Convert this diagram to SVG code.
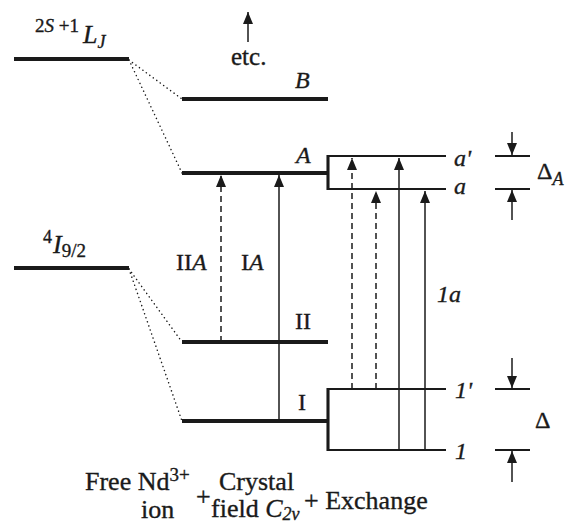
<svg xmlns="http://www.w3.org/2000/svg" width="565" height="525" viewBox="0 0 565 525" font-family="'Liberation Serif', 'Times New Roman', serif">
<style>
text{font-family:"Liberation Serif","Times New Roman",serif;fill:#1a1a1a;stroke:#1a1a1a;stroke-width:0.35;font-size:24px}
.i{font-style:italic}
.lvl{stroke:#1a1a1a;stroke-width:4;fill:none}
.thin{stroke:#1a1a1a;stroke-width:2.2;fill:none}
.dot{stroke:#1a1a1a;stroke-width:1.5;stroke-dasharray:0.1 4.2;stroke-linecap:round;fill:none}
.sol{stroke:#1a1a1a;stroke-width:1.5;fill:none}
.dash{stroke:#1a1a1a;stroke-width:1.5;stroke-dasharray:6 4;fill:none}
.bot{font-size:26px}
</style>
<defs>
<marker id="ah" viewBox="0 0 12 10" refX="12" refY="5" markerWidth="12" markerHeight="10" markerUnits="userSpaceOnUse" orient="auto">
<path d="M0,0 L12,5 L0,10 Z" fill="#1a1a1a"/>
</marker>
</defs>
<g id="connectors">
<path class="dot" d="M129,60 L182,99"/>
<path class="dot" d="M129,60 L182,173"/>
<path class="dot" d="M129,269 L182,342"/>
<path class="dot" d="M129,269 L182,421"/>
<path class="sol" d="M248,42 L248,12" marker-end="url(#ah)"/>
<path class="dash" d="M221,342 L221,175" marker-end="url(#ah)"/>
<path class="sol" d="M279,421 L279,175" marker-end="url(#ah)"/>
<path class="dash" d="M352,389 L352,158" marker-end="url(#ah)"/>
<path class="dash" d="M376,389 L376,191" marker-end="url(#ah)"/>
<path class="sol" d="M399,450 L399,158" marker-end="url(#ah)"/>
<path class="sol" d="M425,450 L425,191" marker-end="url(#ah)"/>
<path class="sol" d="M512,132 L512,155" marker-end="url(#ah)"/>
<path class="sol" d="M512,220 L512,190" marker-end="url(#ah)"/>
<path class="sol" d="M512,358 L512,388" marker-end="url(#ah)"/>
<path class="sol" d="M512,482 L512,451" marker-end="url(#ah)"/>
</g>
<g id="free-2S1LJ">
<line class="lvl" x1="14" y1="59" x2="129" y2="59"/>
<text x="35" y="32" style="font-size:19px">2<tspan class="i">S</tspan> +1</text>
<text x="83" y="43" class="i" style="font-size:26px">L<tspan dy="5" style="font-size:18px">J</tspan></text>
</g>
<g id="free-4I92">
<line class="lvl" x1="14" y1="268" x2="129" y2="268"/>
<text x="43" y="243" style="font-size:18px">4</text>
<text x="53" y="253" class="i" style="font-size:26px">I<tspan dy="4" style="font-size:19px;font-style:normal">9/2</tspan></text>
</g>
<g id="etc">
<text x="231" y="65" style="font-size:25px">etc.</text>
</g>
<g id="level-B">
<line class="lvl" x1="182" y1="99" x2="328" y2="99"/>
<text x="295" y="88" class="i">B</text>
</g>
<g id="level-A">
<line class="lvl" x1="182" y1="173" x2="328" y2="173"/>
<text x="296" y="163" class="i">A</text>
</g>
<g id="level-II">
<line class="lvl" x1="182" y1="342" x2="328" y2="342"/>
<text x="295" y="329">II</text>
</g>
<g id="level-I">
<line class="lvl" x1="182" y1="421" x2="328" y2="421"/>
<text x="298" y="410">I</text>
</g>
<g id="box-a">
<path class="thin" d="M446,156 L328,156 L328,189 L446,189"/>
<line x1="328" y1="155" x2="328" y2="190" stroke="#1a1a1a" stroke-width="3"/>
<text x="454" y="166" class="i">a'</text>
<text x="454" y="194" class="i">a</text>
</g>
<g id="box-1">
<path class="thin" d="M446,389 L328,389 L328,450 L446,450"/>
<line x1="328" y1="388" x2="328" y2="451" stroke="#1a1a1a" stroke-width="3"/>
<text x="455" y="398" class="i">1'</text>
<text x="455" y="459" class="i">1</text>
</g>
<g id="deltaA">
<line class="thin" x1="495" y1="156" x2="530" y2="156"/>
<line class="thin" x1="495" y1="189" x2="530" y2="189"/>
<text x="537" y="179">Δ<tspan dy="6" class="i" style="font-size:18px">A</tspan></text>
</g>
<g id="delta">
<line class="thin" x1="495" y1="389" x2="530" y2="389"/>
<line class="thin" x1="495" y1="450" x2="530" y2="450"/>
<text x="535" y="428">Δ</text>
</g>
<g id="labels">
<text x="176" y="270">II<tspan class="i">A</tspan></text>
<text x="241" y="270">I<tspan class="i">A</tspan></text>
<text x="437" y="302" class="i">1a</text>
</g>
<g id="bottom">
<text class="bot" x="85" y="490">Free Nd<tspan dy="-9" style="font-size:19px">3+</tspan></text>
<text class="bot" x="141" y="518">ion</text>
<text class="bot" x="196" y="505">+</text>
<text class="bot" x="219" y="490">Crystal</text>
<text class="bot" x="211" y="517">field <tspan class="i">C</tspan><tspan dy="3" style="font-size:18px" class="i">2v</tspan></text>
<text class="bot" x="304" y="509">+ Exchange</text>
</g>
</svg>
